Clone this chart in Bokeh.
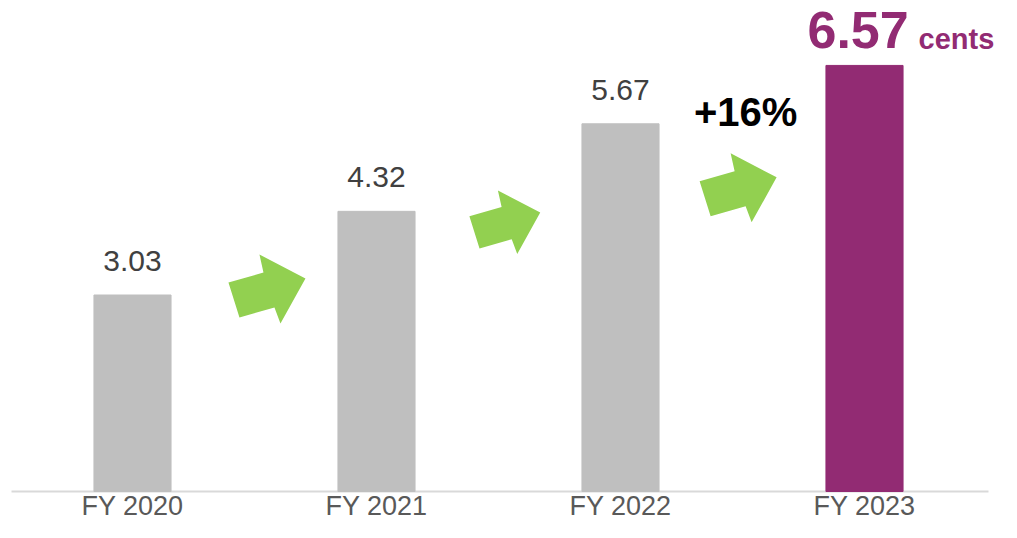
from bokeh.plotting import figure
from bokeh.models import Range1d, ColumnDataSource
from bokeh.core.properties import value
from bokeh.embed import file_html
from bokeh.resources import INLINE

# ---- data ----
categories = ["FY 2020", "FY 2021", "FY 2022", "FY 2023"]
values = [3.03, 4.32, 5.67, 6.57]
value_labels = ["3.03", "4.32", "5.67", "6.57"]
unit_label = "cents"
growth_label = "+16%"

# ---- styling / layout ----
GRAY = "#BFBFBF"
PURPLE = "#922B73"
GREEN = "#92D050"
FONT = value("Liberation Sans")
PX_X = 244.0     # px per category unit
PX_Y = 64.85     # px per y unit

W, H = 1001, 522
p = figure(width=W, height=H, output_backend="svg", toolbar_location=None,
           x_range=Range1d(-0.541, -0.541 + W / PX_X),
           y_range=Range1d(491 / PX_Y - H / PX_Y, 491 / PX_Y),
           min_border=0, min_border_left=0, min_border_right=0,
           min_border_top=0, min_border_bottom=0)
p.axis.visible = False
p.grid.visible = False
p.outline_line_color = None
p.background_fill_color = "white"
p.border_fill_color = "white"

xs = list(range(len(categories)))
colors = [GRAY, GRAY, GRAY, PURPLE]
src = ColumnDataSource(dict(x=xs, top=values, color=colors, cat=categories,
                            lab=value_labels))

# baseline axis line
p.line(x=[-0.5 + 1 / PX_X, 3.5 + 2 / PX_X], y=[0, 0], line_color="#D9D9D9", line_width=2)

p.vbar(x="x", top="top", width=0.316, bottom=0, color="color", source=src)

# category labels
p.text(x="x", y=0, text="cat", source=src, text_font=FONT, text_font_size="27px",
       text_color="#595959", text_align="center", text_baseline="alphabetic", y_offset=14)

# value labels for gray bars
gsrc = ColumnDataSource(dict(x=xs[:3], y=values[:3], lab=value_labels[:3]))
p.text(x="x", y="y", text="lab", source=gsrc, text_font=FONT, text_font_size="30px",
       text_color="#404040", text_align="center", text_baseline="alphabetic", y_offset=-34)

# highlighted last value
p.text(x=[xs[3]], y=[values[3]], text=[value_labels[3]], text_font=FONT,
       text_font_size="52px", text_font_style="bold", text_color=PURPLE,
       text_align="left", text_baseline="alphabetic", x_offset=-57, y_offset=-35)
p.text(x=[xs[3]], y=[values[3]], text=[unit_label], text_font=FONT,
       text_font_size="29px", text_font_style="bold", text_color=PURPLE,
       text_align="left", text_baseline="alphabetic", x_offset=54, y_offset=-26)

# green arrows between bars
arrow_shape = [(-38, -6), (-3, -16), (-7, -34), (39, -10), (14, 35), (8, 19), (-27, 29)]
arrow_cx = [0.549, 1.524, 2.480]
arrow_cy = [3.13, 4.16, 4.69]
arrow_scale = [1.0, 0.92, 1.0]
axs, ays = [], []
for cx, cy, s in zip(arrow_cx, arrow_cy, arrow_scale):
    axs.append([cx + s * dx / PX_X for dx, dy in arrow_shape])
    ays.append([cy - s * dy / PX_Y for dx, dy in arrow_shape])
p.patches(xs=axs, ys=ays, fill_color=GREEN, line_color=None)

# growth label
p.text(x=[arrow_cx[2] + 8 / PX_X], y=[arrow_cy[2]], text=[growth_label], text_font=FONT,
       text_font_size="40px", text_font_style="bold", text_color="black",
       text_align="center", text_baseline="alphabetic", y_offset=-75)

open("out.html", "w").write(file_html(p, INLINE))
